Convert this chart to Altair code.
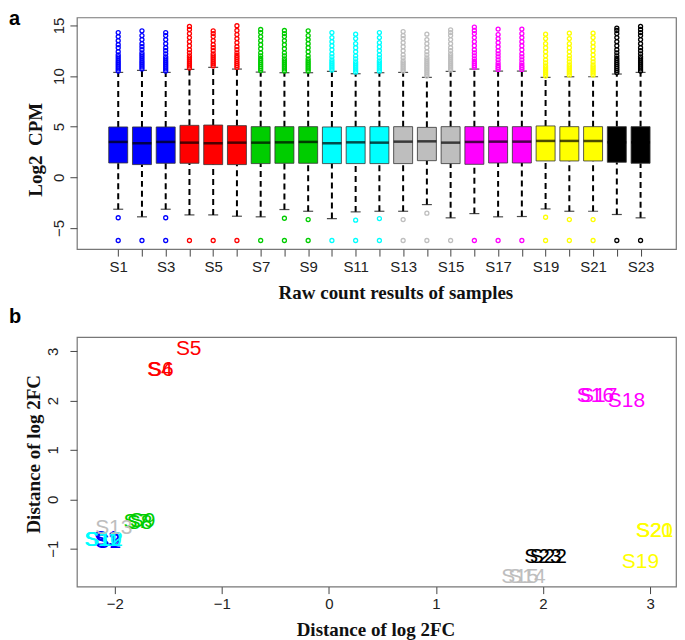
import altair as alt
import pandas as pd

# ---------------- Panel a data (boxplot statistics per sample) ----------------
sample_names = ["S1", "S2", "S3", "S4", "S5", "S6", "S7", "S8", "S9", "S10", "S11", "S12",
                "S13", "S14", "S15", "S16", "S17", "S18", "S19", "S20", "S21", "S22", "S23"]
sample_pos = list(range(1, 24))
sample_group = ["g1"] * 3 + ["g2"] * 3 + ["g3"] * 3 + ["g4"] * 3 + ["g5"] * 3 + ["g6"] * 3 + ["g7"] * 3 + ["g8"] * 2

group_ids = ["g1", "g2", "g3", "g4", "g5", "g6", "g7", "g8"]
group_colors = ["#0000FF", "#FF0000", "#00CD00", "#00FFFF", "#BEBEBE", "#FF00FF", "#FFFF00", "#000000"]

q1 = [1.41, 1.25, 1.38, 1.38, 1.25, 1.25, 1.35, 1.38, 1.38, 1.35, 1.35, 1.35,
      1.35, 1.64, 1.35, 1.28, 1.41, 1.41, 1.61, 1.61, 1.61, 1.48, 1.38]
median = [3.49, 3.36, 3.49, 3.42, 3.36, 3.42, 3.42, 3.45, 3.49, 3.36, 3.45, 3.42,
          3.52, 3.55, 3.42, 3.49, 3.52, 3.52, 3.59, 3.59, 3.59, 3.45, 3.45]
q3 = [4.97, 4.97, 4.97, 5.13, 5.16, 5.10, 5.00, 5.00, 5.00, 4.97, 5.00, 5.00,
      5.00, 4.93, 5.00, 5.00, 5.00, 5.00, 5.07, 5.00, 5.00, 5.00, 5.00]
whisker_hi = [10.36, 10.56, 10.36, 10.66, 10.86, 10.69, 10.39, 10.33, 10.33, 10.46, 10.23, 10.33,
              10.36, 9.87, 10.46, 10.69, 10.49, 10.49, 9.87, 9.93, 9.93, 10.20, 10.36]
whisker_lo = [-3.16, -3.91, -3.16, -3.72, -3.72, -3.85, -3.91, -3.19, -3.36, -4.08, -3.42, -3.36,
              -3.36, -2.70, -4.01, -3.59, -3.91, -3.88, -3.13, -3.36, -3.36, -3.68, -4.01]

upper_outliers = [
    [10.5, 10.7, 10.9, 11.1, 11.3, 11.5, 11.7, 11.9, 12.1, 12.4, 12.8, 13.1, 13.5, 13.9, 14.3],
    [10.7, 10.9, 11.1, 11.3, 11.5, 11.7, 11.9, 12.1, 12.3, 12.6, 12.9, 13.2, 13.6, 14.0, 14.47],
    [10.5, 10.7, 10.9, 11.1, 11.3, 11.5, 11.7, 11.9, 12.2, 12.5, 12.8, 13.2, 13.6, 14.0, 14.3],
    [10.8, 11.0, 11.2, 11.4, 11.6, 11.8, 12.0, 12.3, 12.6, 13.0, 13.4, 13.8, 14.2, 14.6, 14.9],
    [11.0, 11.2, 11.4, 11.6, 11.8, 12.0, 12.2, 12.5, 12.8, 13.1, 13.5, 13.9, 14.2, 14.47],
    [10.85, 11.05, 11.25, 11.45, 11.65, 11.85, 12.05, 12.3, 12.6, 12.9, 13.3, 13.7, 14.1, 14.5, 14.97],
    [10.55, 10.75, 10.95, 11.15, 11.35, 11.55, 11.75, 12.0, 12.3, 12.7, 13.1, 13.5, 13.9, 14.3, 14.6],
    [10.5, 10.7, 10.9, 11.1, 11.3, 11.5, 11.7, 12.0, 12.3, 12.7, 13.1, 13.5, 13.9, 14.2, 14.5],
    [10.5, 10.7, 10.9, 11.1, 11.3, 11.5, 11.7, 12.0, 12.4, 12.8, 13.2, 13.6, 14.0, 14.47],
    [10.6, 10.8, 11.0, 11.2, 11.4, 11.6, 11.9, 12.2, 12.6, 13.0, 13.4, 13.8, 14.3],
    [10.4, 10.6, 10.8, 11.0, 11.2, 11.4, 11.7, 12.0, 12.4, 12.8, 13.2, 13.7, 14.14],
    [10.5, 10.7, 10.9, 11.1, 11.3, 11.5, 11.8, 12.1, 12.5, 12.9, 13.3, 13.8, 14.3],
    [10.5, 10.7, 10.9, 11.1, 11.3, 11.5, 11.8, 12.1, 12.5, 12.9, 13.3, 13.7, 14.0, 14.4],
    [10.0, 10.2, 10.4, 10.6, 10.8, 11.0, 11.2, 11.4, 11.6, 11.8, 12.1, 12.4, 12.8, 13.2, 13.6, 14.14],
    [10.6, 10.8, 11.0, 11.2, 11.4, 11.6, 11.8, 12.0, 12.2, 12.5, 12.8, 13.2, 13.6, 14.0, 14.3, 14.57],
    [10.85, 11.05, 11.25, 11.45, 11.7, 12.0, 12.3, 12.6, 13.0, 13.4, 13.8, 14.2, 14.5, 14.84],
    [10.65, 10.85, 11.05, 11.3, 11.6, 11.9, 12.2, 12.5, 12.9, 13.3, 13.7, 14.1, 14.64],
    [10.65, 10.85, 11.05, 11.3, 11.6, 11.9, 12.2, 12.6, 13.0, 13.4, 13.8, 14.2, 14.64],
    [10.0, 10.2, 10.4, 10.6, 10.8, 11.0, 11.3, 11.6, 12.0, 12.4, 12.8, 13.2, 13.7, 14.14],
    [10.1, 10.3, 10.5, 10.7, 10.9, 11.1, 11.4, 11.7, 12.0, 12.4, 12.8, 13.2, 13.7, 14.24],
    [10.1, 10.3, 10.5, 10.7, 10.9, 11.1, 11.4, 11.7, 12.1, 12.5, 12.9, 13.3, 13.8, 14.24],
    [10.35, 10.55, 10.75, 10.95, 11.15, 11.35, 11.55, 11.75, 12.0, 12.3, 12.6, 13.0, 13.4, 13.8, 14.2, 14.5, 14.74],
    [10.5, 10.7, 10.9, 11.1, 11.3, 11.5, 11.7, 11.9, 12.2, 12.5, 12.8, 13.2, 13.6, 14.0, 14.3, 14.6, 14.9],
]
lower_outliers = [
    [-4.0, -6.25], [-6.25], [-4.0, -6.25], [-6.25], [-6.25], [-6.25],
    [-6.25], [-4.05, -6.25], [-4.18, -6.25], [-6.25], [-4.24, -6.25], [-4.08, -6.25],
    [-4.18, -6.25], [-3.55, -6.25], [-6.25], [-6.25], [-6.25], [-6.25],
    [-3.95, -6.25], [-4.18, -6.25], [-4.18, -6.25], [-6.25], [-6.25],
]

# ---------------- Panel b data (MDS positions) ----------------
mds_x = [-2.08, -2.06, -2.07, -1.58, -1.31, -1.57, -1.80, -1.77, -1.74, -2.11, -2.12, -2.10,
         -2.01, 1.85, 1.785, 2.49, 2.52, 2.78, 2.91, 3.04, 3.045, 2.05, 2.00]
mds_y = [-0.80, -0.87, -0.84, 2.625, 3.05, 2.62, -0.46, -0.48, -0.44, -0.82, -0.83, -0.82,
         -0.59, -1.585, -1.585, 2.10, 2.09, 1.99, -1.28, -0.64, -0.645, -1.18, -1.18]

# ---------------- Build tables ----------------
box_df = pd.DataFrame({
    "sample": sample_names, "pos": sample_pos, "grp": sample_group,
    "q1": q1, "median": median, "q3": q3, "whi": whisker_hi, "wlo": whisker_lo,
})
out_rows = []
for i, name in enumerate(sample_names):
    for v in upper_outliers[i] + lower_outliers[i]:
        out_rows.append({"sample": name, "pos": sample_pos[i], "grp": sample_group[i], "val": v})
out_df = pd.DataFrame(out_rows)
mds_df = pd.DataFrame({"sample": sample_names, "grp": sample_group, "mx": mds_x, "my": mds_y})

color = alt.Color("grp:N", scale=alt.Scale(domain=group_ids, range=group_colors), legend=None)

TICK_FONT = "Liberation Sans"
TITLE_FONT = "Liberation Serif"
PANEL_W = 600

# ---------------- Panel a ----------------
xa = alt.X("pos:Q", scale=alt.Scale(domain=[-0.53, 24.282], nice=False, zero=False),
           title="Raw count results of samples",
           axis=alt.Axis(values=sample_pos, labelExpr="datum.value % 2 == 1 ? 'S' + datum.value : ''",
                         labelPadding=3, titleX=319, titleY=49, titleBaseline="alphabetic",
                         labelOverlap=False))
ya_axis = alt.Axis(values=[-5, 0, 5, 10, 15], labelAngle=270, labelAlign="center",
                   labelBaseline="alphabetic", labelPadding=6,
                   titleX=-35, titleY=132, titleBaseline="alphabetic", titleAngle=270)
ya_scale = alt.Scale(domain=[-7.1, 15.79], nice=False, zero=False)
Y_TITLE_A = "Log2\u00a0\u00a0CPM"

base_a = alt.Chart(box_df)
bars = base_a.mark_bar(size=19, stroke="#333333", strokeWidth=0.8).encode(
    x=xa, y=alt.Y("q1:Q", scale=ya_scale, axis=ya_axis, title=Y_TITLE_A), y2="q3:Q", color=color)
whisk_up = base_a.mark_rule(strokeDash=[6, 4], strokeWidth=2, color="black").encode(
    x=xa, y=alt.Y("q3:Q", scale=ya_scale, axis=ya_axis, title=Y_TITLE_A), y2="whi:Q")
whisk_dn = base_a.mark_rule(strokeDash=[6, 4], strokeWidth=2, color="black").encode(
    x=xa, y=alt.Y("wlo:Q", scale=ya_scale, axis=ya_axis, title=Y_TITLE_A), y2="q1:Q")
cap_up = base_a.mark_tick(orient="horizontal", size=10, thickness=1.2, color="black").encode(
    x=xa, y=alt.Y("whi:Q", scale=ya_scale, axis=ya_axis, title=Y_TITLE_A))
cap_dn = base_a.mark_tick(orient="horizontal", size=10, thickness=1.2, color="black").encode(
    x=xa, y=alt.Y("wlo:Q", scale=ya_scale, axis=ya_axis, title=Y_TITLE_A))
med = base_a.mark_tick(orient="horizontal", size=19, thickness=2.5, color="black").encode(
    x=xa, y=alt.Y("median:Q", scale=ya_scale, axis=ya_axis, title=Y_TITLE_A))
outl = alt.Chart(out_df).mark_point(shape="circle", filled=False, size=16, strokeWidth=1.3, opacity=1).encode(
    x=xa, y=alt.Y("val:Q", scale=ya_scale, axis=ya_axis, title=Y_TITLE_A), color=color)
letter_a = alt.Chart(pd.DataFrame({"t": ["a"]})).mark_text(
    align="left", baseline="top", fontSize=20, fontWeight="bold", font="Liberation Sans", color="black"
).encode(x=alt.value(-68), y=alt.value(-8), text="t:N")

panel_a = alt.layer(whisk_up, whisk_dn, cap_up, cap_dn, bars, med, outl, letter_a).properties(
    width=PANEL_W, height=232)

# ---------------- Panel b ----------------
xb = alt.X("mx:Q", scale=alt.Scale(domain=[-2.3545, 3.2425], nice=False, zero=False),
           title="Distance of log 2FC",
           axis=alt.Axis(values=[-2, -1, 0, 1, 2, 3], labelPadding=3, titleX=299, titleY=49,
                         titleBaseline="alphabetic"))
yb = alt.Y("my:Q", scale=alt.Scale(domain=[-1.77, 3.29], nice=False, zero=False),
           title="Distance of log 2FC",
           axis=alt.Axis(values=[-1, 0, 1, 2, 3], labelAngle=270, labelAlign="center",
                         labelBaseline="alphabetic", labelPadding=12,
                         titleX=-37, titleY=117, titleBaseline="alphabetic", titleAngle=270))
labels_b = alt.Chart(mds_df).mark_text(fontSize=21, font="Liberation Sans", align="center", baseline="middle").encode(
    x=xb, y=yb, text="sample:N", color=color)
letter_b = alt.Chart(pd.DataFrame({"t": ["b"]})).mark_text(
    align="left", baseline="top", fontSize=20, fontWeight="bold", font="Liberation Sans", color="black"
).encode(x=alt.value(-68), y=alt.value(-30), text="t:N")

panel_b = alt.layer(labels_b, letter_b).properties(width=PANEL_W, height=250)

chart = alt.vconcat(panel_a, panel_b, spacing=3).properties(
    padding={"left": 0, "top": 0, "right": 0, "bottom": 0}
).configure_view(stroke="#777777", strokeWidth=1.2).configure_axis(
    grid=False, domain=False, tickSize=7, tickColor="#444444", tickWidth=1,
    labelFont=TICK_FONT, labelFontSize=15, labelColor="#222222",
    titleFont=TITLE_FONT, titleFontSize=19, titleFontWeight="bold", titleColor="#111111",
)

chart.save("out.html", embed_options={"renderer": "svg", "actions": False})
